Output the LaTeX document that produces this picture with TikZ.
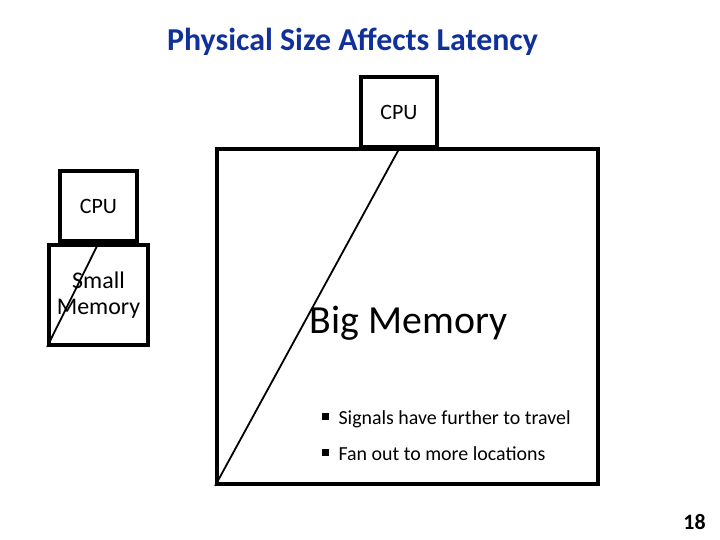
\documentclass[tikz,border=0pt]{standalone}
\usepackage{fontspec}
\setmainfont{Carlito}
\usepackage{tikz}
\usetikzlibrary{positioning}
\definecolor{titleblue}{HTML}{10309A}
\newcommand{\sqbullet}{\rule[0.22em]{0.32em}{0.32em}\hspace{0.5em}}

\begin{document}
\begin{tikzpicture}[x=1bp, y=-1bp,
  box/.style={rectangle, draw=black, line width=3.8bp, inner sep=0pt,
              align=center},
  wire/.style={black, line width=1.8bp},
  bullet/.style={anchor=base west, inner sep=0pt, font=\fontsize{20}{24}\selectfont},
]
  \useasboundingbox (0,0) rectangle (720,540);

  \node[anchor=base, font=\fontsize{32}{36}\selectfont\bfseries, text=titleblue] (title)
    at (352.5,51) {Physical Size Affects Latency};

  % small memory with its cpu
  \node[box, minimum width=99bp, minimum height=100bp, font=\fontsize{24}{26}\selectfont]
    (smem) at (98.5,295) {Small\\Memory};
  \node[box, minimum width=77bp, minimum height=70bp, font=\fontsize{22}{26}\selectfont,
    above=0pt of smem.north, anchor=south] (scpu) {CPU};
  \draw[wire] (scpu.south) -- (smem.south west);

  % big memory with its cpu
  \node[box, minimum width=381bp, minimum height=335bp] (bmem) at (407.5,316.5) {};
  \node[box, minimum width=76bp, minimum height=70bp, font=\fontsize{22}{26}\selectfont,
    anchor=south] (bcpu) at (399,149) {CPU};
  \draw[wire] (bcpu.south) -- (bmem.south west);
  \node[font=\fontsize{40}{44}\selectfont, anchor=base, inner sep=0pt] (btext)
    at (408.5,333) {Big Memory};

  \node[bullet] (b1) at (322,424) {\sqbullet Signals have further to travel};
  \node[bullet] (b2) at (322,460) {\sqbullet Fan out to more locations};

  \node[anchor=base, font=\fontsize{22}{26}\selectfont\bfseries] (pnum) at (694.5,529) {18};
\end{tikzpicture}
\end{document}
